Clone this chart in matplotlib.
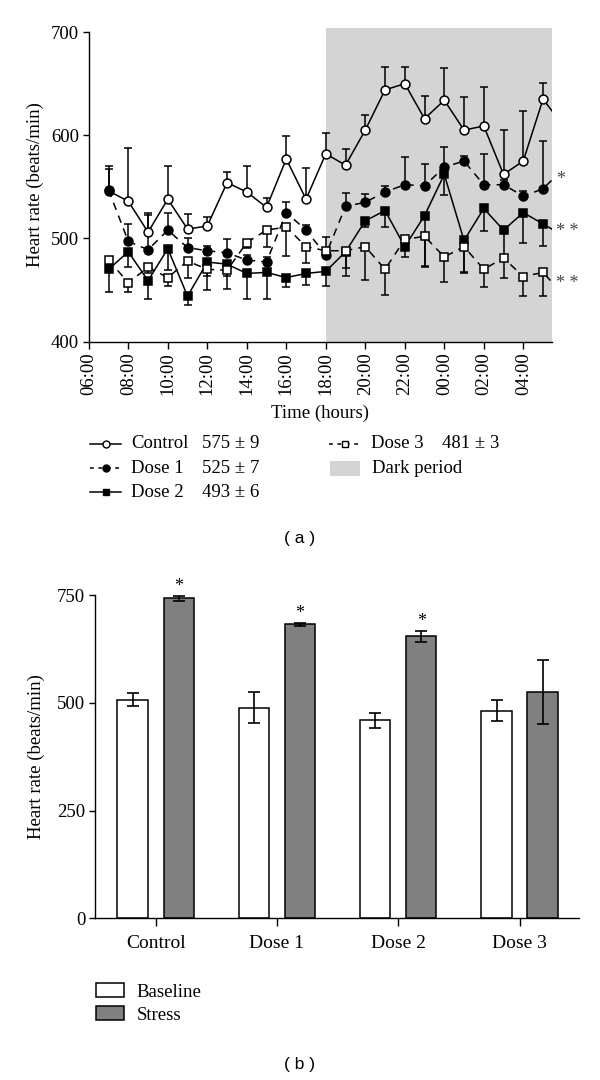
import matplotlib
matplotlib.use("Agg")
import matplotlib.pyplot as plt
from matplotlib.lines import Line2D
from matplotlib.patches import Rectangle, Patch
import numpy as np

plt.rcParams['font.family'] = ['Liberation Serif', 'DejaVu Serif']
plt.rcParams['font.size'] = 13.5
plt.rcParams['axes.linewidth'] = 1.0

# ---- panel (a): hourly heart rate ----
hours = [7, 8, 9, 10, 11, 12, 13, 14, 15, 16, 17, 18,
         19, 20, 21, 22, 23, 24, 25, 26, 27, 28, 29]
hour_next = 30  # next point, cut off by the axis edge
tick_hours = [6, 8, 10, 12, 14, 16, 18, 20, 22, 24, 26, 28]
tick_labels = ['06:00', '08:00', '10:00', '12:00', '14:00', '16:00',
               '18:00', '20:00', '22:00', '00:00', '02:00', '04:00']

control = [546, 536, 506, 538, 509, 512, 554, 545, 530, 577, 538, 582,
           571, 605, 644, 650, 616, 634, 605, 609, 562, 575, 635]
control_err = [24, 52, 19, 32, 15, 9, 10, 25, 9, 22, 30, 20,
               16, 15, 22, 16, 22, 31, 32, 38, 43, 49, 16]
dose1 = [547, 497, 489, 508, 491, 488, 486, 479, 477, 525, 508, 484,
         531, 535, 545, 552, 551, 569, 575, 552, 552, 541, 548]
dose1_err = [20, 17, 34, 17, 9, 5, 13, 5, 5, 10, 5, 17,
             13, 8, 6, 27, 21, 20, 5, 30, 5, 5, 46]
dose2 = [470, 487, 459, 490, 444, 477, 475, 466, 467, 462, 466, 468,
         487, 517, 527, 492, 522, 562, 498, 529, 508, 525, 514]
dose2_err = [22, 15, 18, 21, 9, 27, 24, 25, 26, 9, 11, 14,
             23, 6, 16, 10, 49, 20, 32, 22, 25, 29, 21]
dose3 = [479, 457, 472, 462, 478, 470, 469, 496, 508, 511, 492, 488,
         488, 492, 470, 499, 502, 482, 492, 470, 481, 463, 467]
dose3_err = [5, 9, 6, 8, 16, 6, 5, 5, 16, 28, 16, 6,
             17, 32, 25, 10, 30, 24, 25, 17, 19, 19, 23]
next_vals = {'control': 610, 'dose1': 567, 'dose2': 503, 'dose3': 446}
dark_start = 18
legend_means = ['575 ± 9', '525 ± 7', '493 ± 6', '481 ± 3']

# ---- panel (b): baseline vs stress ----
groups = ['Control', 'Dose 1', 'Dose 2', 'Dose 3']
baseline = [507, 489, 459, 482]
baseline_err = [15, 37, 18, 25]
stress = [742, 682, 654, 525]
stress_err = [6, 3, 12, 74]
stress_sig = [True, True, True, False]

W, H = 600, 1080
fig = plt.figure(figsize=(6, 10.8), dpi=100)


def fx(px):
    return px / W


def fy(py):
    return 1 - py / H


# ================= panel (a) =================
ax = fig.add_axes([fx(88.8), fy(341.5), fx(551.7 - 88.8), (341.5 - 28) / H])
xmax = 29.44
ax.axvspan(dark_start, xmax, color='#d4d4d4', lw=0, zorder=0)

series = [
    ('control', control, control_err, '-', 'o', 'white', 'up'),
    ('dose1', dose1, dose1_err, (0, (5, 4)), 'o', 'black', 'up'),
    ('dose2', dose2, dose2_err, '-', 's', 'black', 'down'),
    ('dose3', dose3, dose3_err, (0, (5, 4)), 's', 'white', 'down'),
]
for i, (key, vals, err, ls, mk, mfc, side) in enumerate(series):
    zero = [0] * len(err)
    yerr = [zero, err] if side == 'up' else [err, zero]
    ax.errorbar(hours, vals, yerr=yerr, fmt='none', ecolor='black',
                elinewidth=1.1, capsize=3.2, capthick=1.1, zorder=2 + i)
    ax.plot(hours + [hour_next], vals + [next_vals[key]], color='black',
            lw=1.1, ls=ls, zorder=6 + i)
    ax.plot(hours, vals, ls='none', marker=mk, ms=6.4, mfc=mfc,
            mec='black', mew=1.1, zorder=10 + i)

ax.set_xlim(6, xmax)
ax.set_ylim(400, 704)
ax.set_yticks([400, 500, 600, 700])
ax.set_xticks(tick_hours)
ax.set_xticklabels(tick_labels, rotation=90)
ax.spines['top'].set_visible(False)
ax.spines['right'].set_visible(False)
ax.spines['left'].set_bounds(400, 700)
ax.tick_params(axis='y', length=4, width=1.0, pad=3)
ax.tick_params(axis='x', length=5, width=1.0, pad=3)
ax.set_ylabel('Heart rate (beats/min)', labelpad=5)
ax.set_xlabel('Time (hours)', labelpad=7)

for txt, yv in [('*', 557), ('* *', 507), ('* *', 456)]:
    ax.text(29.65, yv, txt, ha='left', va='center', fontsize=13,
            color='#444444', clip_on=False)

# legend for (a), drawn in figure pixels
rows = [(444, 'Control', '-', 'o', 'white', legend_means[0]),
        (468.3, 'Dose 1', (0, (2.5, 3)), 'o', 'black', legend_means[1]),
        (492.3, 'Dose 2', '-', 's', 'black', legend_means[2])]
for yy, name, ls, mk, mfc, mean in rows:
    fig.add_artist(Line2D([fx(90), fx(121)], [fy(yy), fy(yy)],
                          color='black', lw=1.1, ls=ls))
    fig.add_artist(Line2D([fx(105.5)], [fy(yy)], marker=mk, ms=5,
                          mfc=mfc, mec='black', mew=1.0))
    fig.text(fx(131), fy(yy), name, va='center', ha='left')
    fig.text(fx(202.5), fy(yy), mean, va='center', ha='left')

fig.add_artist(Line2D([fx(329), fx(360)], [fy(444), fy(444)],
                      color='black', lw=1.1, ls=(0, (2.5, 3))))
fig.add_artist(Line2D([fx(344.5)], [fy(444)], marker='s', ms=5,
                      mfc='white', mec='black', mew=1.0))
fig.text(fx(371), fy(444), 'Dose 3', va='center', ha='left')
fig.text(fx(442), fy(444), legend_means[3], va='center', ha='left')
fig.add_artist(Rectangle((fx(329.5), fy(476)), fx(30), 15.5 / H,
                         transform=fig.transFigure, color='#d4d4d4', lw=0))
fig.text(fx(371.5), fy(468.3), 'Dark period', va='center', ha='left')

fig.text(0.5, fy(539), '( a )', ha='center', va='center',
         family=['Liberation Sans', 'DejaVu Sans'], fontsize=12.5)

# ================= panel (b) =================
ax2 = fig.add_axes([fx(95), fy(918.3), fx(579 - 95), (918.3 - 595) / H])
x = np.arange(len(groups))
bw = 0.25
off = 0.19
ax2.bar(x - off, baseline, bw, color='white', edgecolor='black', lw=1.1,
        zorder=2, label='Baseline')
ax2.bar(x + off, stress, bw, color='#808080', edgecolor='black', lw=1.1,
        zorder=2, label='Stress')
ax2.errorbar(x - off, baseline, yerr=baseline_err, fmt='none', ecolor='black',
             elinewidth=1.2, capsize=4.3, capthick=1.2, zorder=3)
ax2.errorbar(x + off, stress, yerr=stress_err, fmt='none', ecolor='black',
             elinewidth=1.2, capsize=4.3, capthick=1.2, zorder=3)
for xi, v, e, sig in zip(x, stress, stress_err, stress_sig):
    if sig:
        ax2.text(xi + off, v + e + 3, '*', ha='center', va='bottom',
                 fontsize=13, clip_on=False)

ax2.set_xlim(-0.5, 3.49)
ax2.set_ylim(0, 750)
ax2.set_yticks([0, 250, 500, 750])
ax2.set_xticks(x)
ax2.set_xticklabels(groups, fontsize=14)
ax2.spines['top'].set_visible(False)
ax2.spines['right'].set_visible(False)
ax2.tick_params(axis='y', length=4, width=1.0, pad=3)
ax2.tick_params(axis='x', length=6, width=1.0, pad=6)
ax2.set_ylabel('Heart rate (beats/min)', labelpad=9)

leg = ax2.legend(handles=[Patch(facecolor='white', edgecolor='black', lw=1.1),
                          Patch(facecolor='#808080', edgecolor='black', lw=1.1)],
                 labels=['Baseline', 'Stress'],
                 loc='upper left', bbox_to_anchor=(fx(95.7), fy(983)),
                 bbox_transform=fig.transFigure, frameon=False,
                 borderaxespad=0, borderpad=0, handlelength=1.5,
                 handleheight=0.8, handletextpad=0.7, labelspacing=0.28)

fig.text(0.5, fy(1065), '( b )', ha='center', va='center',
         family=['Liberation Sans', 'DejaVu Sans'], fontsize=12.5)

fig.savefig('out.png', dpi=100)
